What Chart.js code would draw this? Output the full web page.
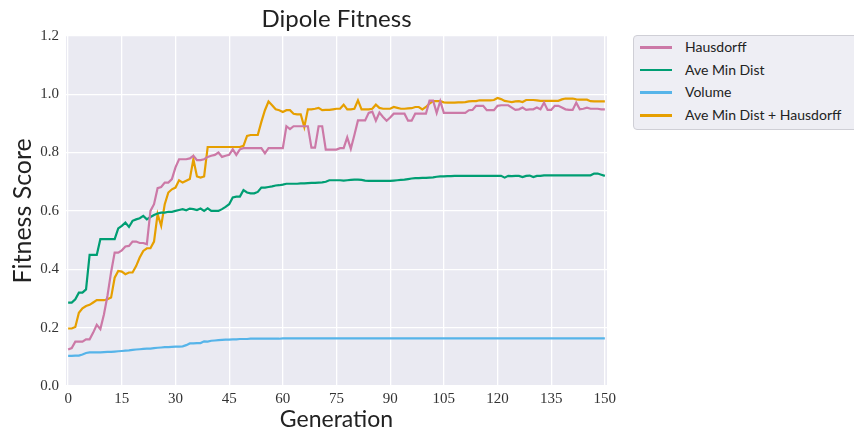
<!DOCTYPE html>
<html>
<head>
<meta charset="utf-8">
<title>Dipole Fitness</title>
<script src="https://cdn.jsdelivr.net/npm/chart.js"></script>
<style>
    body { margin: 0; background: #ffffff; }
    #contenedor { position: relative; width: 854px; height: 433px; overflow: hidden; }
    #leyenda {
        position: absolute; left: 633px; top: 35px; width: 240px; height: 93px;
        background: #eeeef4; border: 1px solid #cfcfd6; border-radius: 4px;
        font-family: Lato, "Open Sans", sans-serif; font-size: 14px; color: #222;
    }
    .item { position: absolute; left: 0; height: 20px; }
    .muestra { position: absolute; left: 6px; top: 9px; width: 32px; height: 2.5px; }
    .texto { position: absolute; left: 51px; top: 1px; white-space: nowrap; }
</style>
</head>
<body>
<div id="contenedor">
    <canvas id="grafico" width="854" height="433"></canvas>
    <div id="leyenda"></div>
</div>
<script>
// Datos
var generaciones = Array.from({ length: 151 }, function (_, i) { return i; });
var xTicks = [0, 15, 30, 45, 60, 75, 90, 105, 120, 135, 150];

var hausdorff = [
    0.125, 0.13, 0.152, 0.152, 0.152, 0.16, 0.16, 0.183, 0.21, 0.195,
    0.245, 0.31, 0.39, 0.457, 0.457, 0.465, 0.478, 0.48, 0.495, 0.495,
    0.49, 0.49, 0.486, 0.6, 0.623, 0.678, 0.682, 0.697, 0.697, 0.709,
    0.749, 0.777, 0.777, 0.777, 0.78, 0.789, 0.774, 0.774, 0.777, 0.785,
    0.789, 0.792, 0.8, 0.785, 0.789, 0.792, 0.811, 0.792, 0.811, 0.815,
    0.815, 0.815, 0.815, 0.815, 0.815, 0.797, 0.815, 0.815, 0.815, 0.815,
    0.815, 0.89, 0.88, 0.89, 0.89, 0.89, 0.89, 0.89, 0.817, 0.817,
    0.89, 0.89, 0.81, 0.81, 0.81, 0.81, 0.815, 0.815, 0.852, 0.813,
    0.86, 0.91, 0.91, 0.91, 0.936, 0.94, 0.909, 0.937, 0.922, 0.909,
    0.92, 0.933, 0.933, 0.933, 0.933, 0.909, 0.909, 0.933, 0.933, 0.933,
    0.933, 0.978, 0.978, 0.936, 0.976, 0.936, 0.936, 0.936, 0.936, 0.936,
    0.936, 0.936, 0.945, 0.946, 0.96, 0.96, 0.96, 0.945, 0.945, 0.945,
    0.96, 0.962, 0.962, 0.962, 0.954, 0.946, 0.948, 0.954, 0.946, 0.948,
    0.948, 0.954, 0.948, 0.971, 0.946, 0.946, 0.96, 0.96, 0.954, 0.948,
    0.946, 0.946, 0.971, 0.948, 0.95, 0.954, 0.95, 0.95, 0.95, 0.948,
    0.948
];

var aveMinDist = [
    0.286, 0.286, 0.297, 0.32, 0.32, 0.331, 0.449, 0.449, 0.449, 0.503,
    0.503, 0.503, 0.503, 0.503, 0.54, 0.549, 0.56, 0.545, 0.566, 0.571,
    0.575, 0.583, 0.571, 0.579, 0.586, 0.591, 0.594, 0.594, 0.597, 0.597,
    0.6, 0.603, 0.606, 0.602, 0.608, 0.606, 0.603, 0.608, 0.6, 0.609,
    0.6, 0.6, 0.6, 0.606, 0.614, 0.623, 0.646, 0.649, 0.649, 0.671,
    0.663, 0.66, 0.66, 0.665, 0.68, 0.68, 0.682, 0.684, 0.687, 0.688,
    0.69, 0.693, 0.693, 0.693, 0.693, 0.694, 0.694, 0.695, 0.696, 0.696,
    0.697, 0.698, 0.7, 0.705, 0.705, 0.705, 0.705, 0.704, 0.705, 0.706,
    0.707, 0.707, 0.706, 0.704, 0.703, 0.703, 0.703, 0.703, 0.703, 0.703,
    0.703, 0.704, 0.705, 0.706, 0.707, 0.709, 0.711, 0.712, 0.712, 0.713,
    0.713, 0.714, 0.715, 0.717, 0.718, 0.718, 0.719, 0.719, 0.72, 0.72,
    0.72, 0.72, 0.72, 0.72, 0.72, 0.72, 0.72, 0.72, 0.72, 0.72,
    0.72, 0.72, 0.714, 0.72, 0.719, 0.72, 0.72, 0.716, 0.72, 0.721,
    0.716, 0.72, 0.72, 0.722, 0.722, 0.722, 0.722, 0.722, 0.722, 0.722,
    0.722, 0.722, 0.722, 0.722, 0.722, 0.722, 0.722, 0.728, 0.728, 0.724,
    0.72
];

var volumen = [
    0.103, 0.103, 0.104, 0.104, 0.108, 0.113, 0.115, 0.115, 0.115, 0.115,
    0.116, 0.117, 0.117, 0.118, 0.119, 0.12, 0.121, 0.122, 0.124, 0.125,
    0.126, 0.127, 0.128, 0.128, 0.13, 0.131, 0.132, 0.133, 0.133, 0.134,
    0.135, 0.135, 0.136, 0.14, 0.146, 0.146, 0.147, 0.147, 0.153, 0.152,
    0.155, 0.156, 0.157, 0.158, 0.159, 0.159, 0.16, 0.16, 0.161, 0.161,
    0.161, 0.162, 0.162, 0.162, 0.162, 0.162, 0.162, 0.162, 0.162, 0.162,
    0.163, 0.163, 0.163, 0.163, 0.163, 0.163, 0.163, 0.163, 0.163, 0.163,
    0.163, 0.163, 0.163, 0.163, 0.163, 0.163, 0.163, 0.163, 0.163, 0.163,
    0.163, 0.163, 0.163, 0.163, 0.163, 0.163, 0.163, 0.163, 0.163, 0.163,
    0.163, 0.163, 0.163, 0.163, 0.163, 0.163, 0.163, 0.163, 0.163, 0.163,
    0.163, 0.163, 0.163, 0.163, 0.163, 0.163, 0.163, 0.163, 0.163, 0.163,
    0.163, 0.163, 0.163, 0.163, 0.163, 0.163, 0.163, 0.163, 0.163, 0.163,
    0.163, 0.163, 0.163, 0.163, 0.163, 0.163, 0.163, 0.163, 0.163, 0.163,
    0.163, 0.163, 0.163, 0.163, 0.163, 0.163, 0.163, 0.163, 0.163, 0.163,
    0.163, 0.163, 0.163, 0.163, 0.163, 0.163, 0.163, 0.163, 0.163, 0.163,
    0.163
];

var aveMasHausdorff = [
    0.197, 0.197, 0.202, 0.251, 0.266, 0.274, 0.278, 0.286, 0.294, 0.294,
    0.294, 0.297, 0.303, 0.371, 0.394, 0.392, 0.383, 0.389, 0.389, 0.411,
    0.44, 0.463, 0.472, 0.472, 0.495, 0.589, 0.549, 0.623, 0.663, 0.674,
    0.68, 0.705, 0.697, 0.703, 0.709, 0.777, 0.718, 0.714, 0.718, 0.819,
    0.819, 0.819, 0.819, 0.819, 0.819, 0.819, 0.819, 0.819, 0.819, 0.823,
    0.857, 0.86, 0.86, 0.86, 0.905, 0.945, 0.975, 0.962, 0.948, 0.945,
    0.939, 0.945, 0.945, 0.933, 0.931, 0.931, 0.887, 0.948, 0.948, 0.95,
    0.953, 0.945, 0.946, 0.946, 0.948, 0.95, 0.95, 0.964, 0.948, 0.948,
    0.95, 0.979, 0.948, 0.948, 0.948, 0.95, 0.964, 0.953, 0.95, 0.95,
    0.95, 0.956, 0.953, 0.95, 0.95, 0.951, 0.952, 0.956, 0.956, 0.948,
    0.956, 0.968, 0.976, 0.976, 0.976, 0.972, 0.971, 0.971, 0.971, 0.972,
    0.972, 0.973, 0.975, 0.976, 0.976, 0.979, 0.979, 0.979, 0.979, 0.98,
    0.987, 0.983, 0.977, 0.975, 0.973, 0.975, 0.976, 0.973, 0.98, 0.98,
    0.98, 0.979, 0.977, 0.977, 0.977, 0.977, 0.977, 0.977, 0.982, 0.985,
    0.985, 0.985, 0.982, 0.981, 0.981, 0.981, 0.976, 0.975, 0.975, 0.975,
    0.975
];

var series = [
    { nombre: 'Hausdorff', datos: hausdorff, color: '#cc79a7' },
    { nombre: 'Ave Min Dist', datos: aveMinDist, color: '#009e73' },
    { nombre: 'Volume', datos: volumen, color: '#56b4e9' },
    { nombre: 'Ave Min Dist + Hausdorff', datos: aveMasHausdorff, color: '#e69f00' }
];

// Fondo gris del area del grafico
var fondoPlot = {
    id: 'fondoPlot',
    beforeDraw: function (chart) {
        var ctx = chart.ctx;
        var a = chart.chartArea;
        ctx.save();
        ctx.fillStyle = '#eaeaf2';
        ctx.fillRect(a.left, a.top, a.right - a.left, a.bottom - a.top);
        ctx.restore();
    }
};

function crearGrafico() {
    var ctx = document.getElementById('grafico').getContext('2d');
    var tickFont = { family: '"Liberation Serif", "DejaVu Serif", serif', size: 15 };
    var fuente = 'Lato, "Open Sans", sans-serif';

    new Chart(ctx, {
        type: 'line',
        data: {
            labels: generaciones,
            datasets: series.map(function (s) {
                return {
                    label: s.nombre,
                    data: s.datos,
                    borderColor: s.color,
                    backgroundColor: s.color,
                    borderWidth: 2.2,
                    pointRadius: 0,
                    tension: 0,
                    fill: false
                };
            })
        },
        plugins: [fondoPlot],
        options: {
            responsive: false,
            animation: false,
            layout: { padding: { left: 0, right: 247, top: 0, bottom: 0 } },
            plugins: {
                legend: { display: false },
                tooltip: { enabled: false },
                title: {
                    display: true,
                    text: 'Dipole Fitness',
                    color: '#222',
                    font: { family: fuente, size: 24, weight: 'normal' },
                    fullSize: false,
                    padding: { top: 5, bottom: 2 }
                }
            },
            scales: {
                x: {
                    type: 'linear',
                    min: -0.6,
                    max: 150.6,
                    afterBuildTicks: function (axis) {
                        axis.ticks = xTicks.map(function (v) { return { value: v }; });
                    },
                    afterFit: function (scale) { scale.height = 47; },
                    grid: { color: '#ffffff', lineWidth: 1.3, drawTicks: false },
                    border: { display: false },
                    ticks: { color: '#333', font: tickFont, padding: 4, maxRotation: 0 },
                    title: {
                        display: true,
                        text: 'Generation',
                        color: '#222',
                        font: { family: fuente, size: 23, weight: 'normal' },
                        padding: { top: 0, bottom: 0 }
                    }
                },
                y: {
                    min: 0,
                    max: 1.2,
                    afterFit: function (scale) { scale.width = 66; },
                    grid: { color: '#ffffff', lineWidth: 1.3, drawTicks: false },
                    border: { display: false },
                    ticks: {
                        stepSize: 0.2,
                        color: '#333',
                        font: tickFont,
                        padding: 7,
                        callback: function (v) { return v.toFixed(1); }
                    },
                    title: {
                        display: true,
                        text: 'Fitness Score',
                        color: '#222',
                        font: { family: fuente, size: 25, weight: 'normal' },
                        padding: { top: 8, bottom: 0 }
                    }
                }
            }
        }
    });
}

// Leyenda en HTML, a la derecha del grafico
function crearLeyenda() {
    var leyenda = document.getElementById('leyenda');
    series.forEach(function (s, i) {
        var item = document.createElement('div');
        item.className = 'item';
        item.style.top = (1 + i * 22.7) + 'px';
        item.innerHTML = '<div class="muestra" style="background:' + s.color + '"></div>' +
            '<div class="texto">' + s.nombre + '</div>';
        leyenda.appendChild(item);
    });
}

crearGrafico();
crearLeyenda();
</script>
</body>
</html>
